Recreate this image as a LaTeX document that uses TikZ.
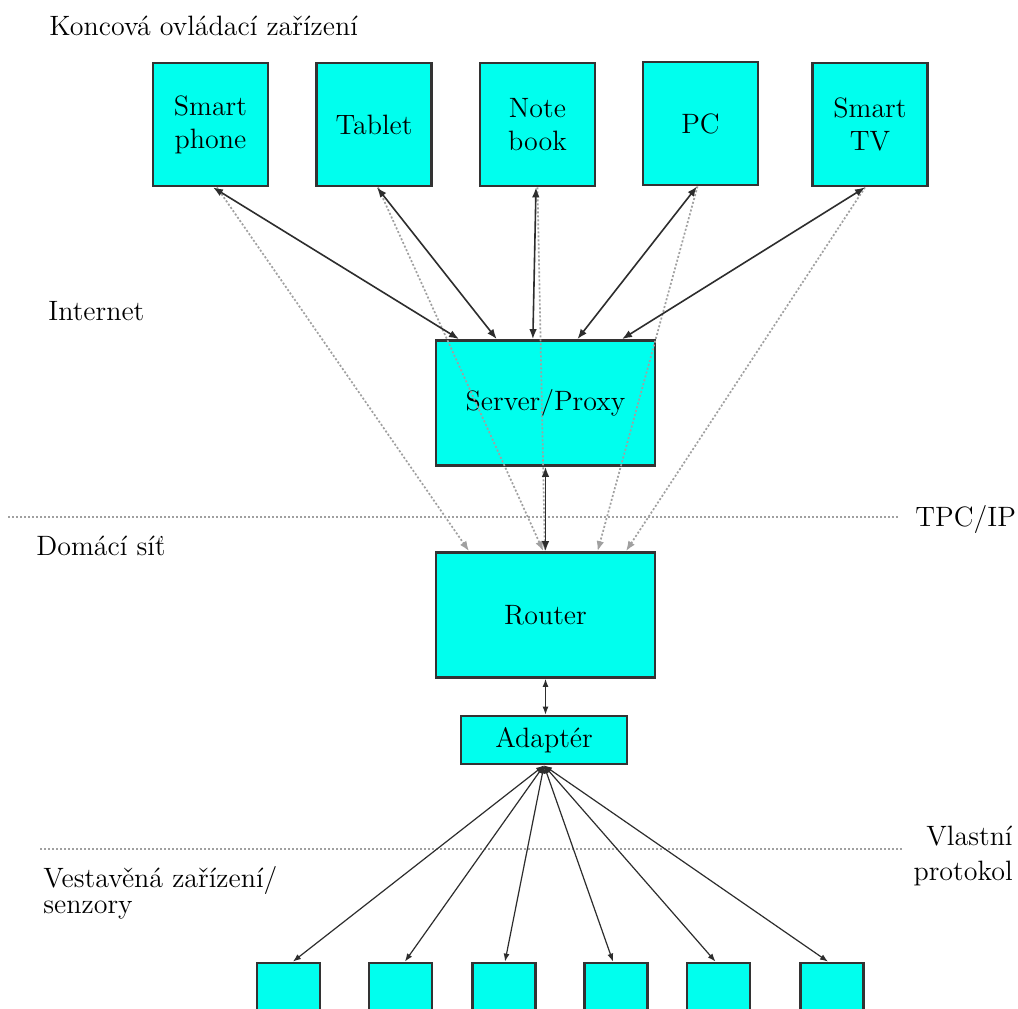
\documentclass[tikz,border=0pt]{standalone}
\usepackage{fontspec}
\usetikzlibrary{arrows.meta,calc}
\definecolor{boxcyan}{RGB}{0,255,238}
\definecolor{arrowgray}{RGB}{45,45,45}
\definecolor{dotgray}{RGB}{160,160,160}
\begin{document}
\begin{tikzpicture}[x=0.5pt,y=-0.5pt,
  box/.style={draw=black!80, line width=1.4pt, fill=boxcyan, inner sep=0pt, align=center, font=\fontsize{14}{16.5}\selectfont},
  topbox/.style={box, minimum width=57.5pt, minimum height=61.5pt},
  bigbox/.style={box, minimum width=109.5pt, minimum height=62.5pt},
  sensor/.style={box, minimum width=31.5pt, minimum height=50pt},
  lbl/.style={inner sep=0pt, font=\fontsize{14}{16.5}\selectfont},
  link/.style={draw=arrowgray, line width=0.8pt, {Latex[length=5pt,width=3.8pt]}-{Latex[length=5pt,width=3.8pt]}},
  dotlink/.style={draw=dotgray, line width=0.85pt, dash pattern=on 1pt off 1pt, -{Latex[length=5pt,width=3.8pt]}},
  sublink/.style={draw=arrowgray, line width=0.6pt, {Latex[length=4pt,width=3pt]}-{Latex[length=4pt,width=3pt]}},
  sepline/.style={draw=dotgray, line width=0.9pt, dash pattern=on 1pt off 1pt},
]
\clip (0,0) rectangle (1018,1008);
\fill[white] (0,0) rectangle (1018,1008);

% top devices
\node[topbox] (sp)  at (210.5,124.5) {Smart\\phone};
\node[topbox] (tab) at (374,124.5) {Tablet};
\node[topbox] (nb)  at (537.5,124.5) {Note\\book};
\node[topbox] (pc)  at (700.5,123.5) {PC};
\node[topbox] (tv)  at (870,124.5) {Smart\\TV};

% middle
\node[bigbox] (srv) at (545.5,403) {Server/Proxy};
\node[bigbox] (rtr) at (545.5,615) {Router};
\node[box, minimum width=83pt, minimum height=24pt] (adp) at (544,740) {Adaptér};

% sensors
\node[sensor] (s1) at (288.5,1013) {};
\node[sensor] (s2) at (400.5,1013) {};
\node[sensor] (s3) at (504,1013) {};
\node[sensor] (s4) at (616,1013) {};
\node[sensor] (s5) at (718.5,1013) {};
\node[sensor] (s6) at (832,1013) {};

% separators
\coordinate (sepA1) at (8,517);
\coordinate (sepA2) at (900,517);
\coordinate (sepB1) at (40,849);
\coordinate (sepB2) at (902,849);
\draw[sepline] (sepA1) -- (sepA2);
\draw[sepline] (sepB1) -- (sepB2);

% dotted direct links to router
\draw[dotlink] ([xshift=3.2pt]sp.south) -- ($(rtr.north west)!0.155!(rtr.north east)$);
\draw[dotlink] ([xshift=2pt]tab.south) -- ($(rtr.north west)!0.49!(rtr.north east)$);
\draw[dotlink] (nb.south) -- ($(rtr.north west)!0.497!(rtr.north east)$);
\draw[dotlink] ([xshift=-1.5pt]pc.south) -- ($(rtr.north west)!0.735!(rtr.north east)$);
\draw[dotlink] ([xshift=-2.5pt]tv.south) -- ($(rtr.north west)!0.863!(rtr.north east)$);

% solid links to server
\draw[link] ([xshift=1.25pt]sp.south) -- ($(srv.north west)!0.11!(srv.north east)$);
\draw[link] ([xshift=1.5pt]tab.south) -- ($(srv.north west)!0.28!(srv.north east)$);
\draw[link] ([xshift=-0.75pt]nb.south) -- ($(srv.north west)!0.443!(srv.north east)$);
\draw[link] ([xshift=-1.75pt]pc.south) -- ($(srv.north west)!0.644!(srv.north east)$);
\draw[link] ([xshift=-2.5pt]tv.south) -- ($(srv.north west)!0.845!(srv.north east)$);

\draw[link] (srv.south) -- (rtr.north);
\draw[sublink] (rtr.south) -- (rtr.south |- adp.north);

\foreach \s/\dx in {s1/2.2pt,s2/2.2pt,s3/0.5pt,s4/-1.5pt,s5/-1.5pt,s6/-2pt}
  \draw[sublink] (adp.south) -- ([xshift=\dx]\s.north);

% labels
\node[lbl, anchor=base west] (lkon) at (49,35) {Koncová ovládací zařízení};
\node[lbl, anchor=base west] (lint) at (48,320) {Internet};
\node[lbl, anchor=base west] (ldom) at (36,555) {Domácí síť};
\node[lbl, anchor=base west] (ltcp) at (915,526) {TPC/IP};
\node[lbl, font=\fontsize{14}{17.5}\selectfont, align=right, anchor=base east] (lvl) at (1013,880) {Vlastní\\protokol};
\node[lbl, font=\fontsize{14}{13}\selectfont, align=left, anchor=base west] (lves) at (43,913) {Vestavěná zařízení/\\senzory};
\end{tikzpicture}
\end{document}
